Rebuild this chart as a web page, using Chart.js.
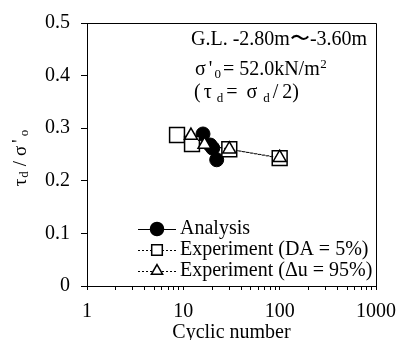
<!DOCTYPE html>
<html><head><meta charset="utf-8">
<script src="https://cdn.jsdelivr.net/npm/chart.js@4"></script>
<style>html,body{margin:0;padding:0;background:#fff}#wrap{width:406px;height:340px}</style>
</head><body>
<div id="wrap"><canvas id="c"></canvas></div>
<script>
// ---- data ----
const analysisN     = [16.0, 19.0, 20.2, 22.2];
const analysisRatio = [0.289, 0.268, 0.262, 0.240];
const daN           = [8.6, 12.3, 30, 100];
const daRatio       = [0.287, 0.270, 0.260, 0.243];
const duN           = [12, 16.6, 30, 100];
const duRatio       = [0.286, 0.269, 0.260, 0.244];
const xTickValues   = [1,2,3,4,5,6,7,8,9,10,20,30,40,50,60,70,80,90,100,200,300,400,500,600,700,800,900,1000];
const xTickLabels   = [1, 10, 100, 1000];
const yTickValues   = [0, 0.1, 0.2, 0.3, 0.4, 0.5];
const seriesNames   = ['Analysis', 'Experiment (DA = 5%)', 'Experiment (\u0394u = 95%)'];
const xTitle        = 'Cyclic number';

const SERIF = "'Liberation Serif','Times New Roman',serif";
const pts = (xs, ys) => xs.map((x, i) => ({x, y: ys[i]}));

function drawMarker(ctx, style, x, y, r, fill) {
  ctx.save();
  ctx.beginPath();
  if (style === 'circle') {
    ctx.arc(x, y, r, 0, Math.PI * 2);
  } else if (style === 'rect') {
    const s = Math.SQRT1_2 * r;
    ctx.rect(x - s, y - s, 2 * s, 2 * s);
  } else {
    ctx.moveTo(x, y - r);
    ctx.lineTo(x + Math.sin(2 * Math.PI / 3) * r, y + r / 2);
    ctx.lineTo(x - Math.sin(2 * Math.PI / 3) * r, y + r / 2);
    ctx.closePath();
  }
  ctx.fillStyle = fill;
  ctx.fill();
  ctx.lineWidth = 1.5;
  ctx.strokeStyle = '#000';
  ctx.stroke();
  ctx.restore();
}

// sequential rich-text runs: each piece placed after the previous one plus its gap
function runs(ctx, x, baseY, pieces) {
  pieces.forEach(p => {
    ctx.font = (p.size || 20) + 'px ' + SERIF;
    x += (p.gap || 0);
    ctx.fillText(p.t, x, baseY + (p.dy || 0));
    x += ctx.measureText(p.t).width;
  });
}

const decor = {
  id: 'decor',
  afterDraw(chart) {
    const ctx = chart.ctx, a = chart.chartArea;
    ctx.save();
    // frame (top and right)
    ctx.strokeStyle = '#000'; ctx.lineWidth = 1;
    ctx.beginPath();
    ctx.moveTo(a.left, a.top + 0.5); ctx.lineTo(a.right + 0.5, a.top + 0.5);
    ctx.lineTo(a.right + 0.5, a.bottom);
    ctx.stroke();

    ctx.fillStyle = '#000';
    ctx.textAlign = 'left';
    ctx.textBaseline = 'alphabetic';
    // annotation text
    runs(ctx, 191, 45, [{t: 'G.L. -2.80m\u301C-3.60m'}]);
    runs(ctx, 195, 75, [
      {t: '\u03C3'},
      {t: "'", gap: 3},
      {t: '0', size: 13, dy: 3, gap: 2},
      {t: '= 52.0kN/m', gap: 2},
      {t: '2', size: 13, dy: -7, gap: 0.5}
    ]);
    runs(ctx, 194, 98, [
      {t: '('},
      {t: '\u03C4', gap: 3},
      {t: 'd', size: 13, dy: 4, gap: 5},
      {t: '=', gap: 3},
      {t: '\u03C3', gap: 9},
      {t: 'd', size: 13, dy: 4, gap: 6},
      {t: '/', gap: 3},
      {t: '2)', gap: 4}
    ]);

    // legend
    const items = [
      {style: 'circle', r: 6.5, fill: '#000', dash: [], y: 229},
      {style: 'rect', r: 7.5, fill: '#fff', dash: [2, 2], y: 250},
      {style: 'triangle', r: 6.5, fill: '#fff', dash: [2, 2], y: 271}
    ];
    items.forEach((it, i) => {
      ctx.save();
      ctx.strokeStyle = '#000'; ctx.lineWidth = 1;
      ctx.setLineDash(it.dash);
      ctx.beginPath();
      ctx.moveTo(138, it.y + 0.5); ctx.lineTo(176, it.y + 0.5);
      ctx.stroke();
      ctx.restore();
      drawMarker(ctx, it.style, 157, it.y, it.r, it.fill);
      ctx.fillStyle = '#000';
      ctx.font = '20px ' + SERIF;
      ctx.textBaseline = 'middle';
      ctx.fillText(seriesNames[i], 180, it.y);
    });

    // x-axis title
    ctx.textAlign = 'center';
    ctx.textBaseline = 'alphabetic';
    ctx.font = '20px ' + SERIF;
    ctx.fillText(xTitle, (a.left + a.right) / 2, 338);

    // y-axis title (rotated)
    ctx.save();
    ctx.translate(21, 158);
    ctx.rotate(-Math.PI / 2);
    ctx.textBaseline = 'middle';
    ctx.textAlign = 'left';
    const parts = [
      {t: '\u03C4', size: 19, dy: 0},
      {t: 'd', size: 13, dy: 4},
      {t: '/', size: 19, dy: 0},
      {t: '\u03C3', size: 19, dy: 0},
      {t: "'", size: 19, dy: -1},
      {t: 'o', size: 13, dy: 4}
    ];
    const gaps = [0, 1, 5, 5, 3, 3];
    let w = 0;
    parts.forEach((p, i) => { ctx.font = p.size + 'px ' + SERIF; p.w = ctx.measureText(p.t).width; w += p.w + gaps[i]; });
    let x = -w / 2;
    parts.forEach((p, i) => { x += gaps[i]; ctx.font = p.size + 'px ' + SERIF; ctx.fillText(p.t, x, p.dy); x += p.w; });
    ctx.restore();
    ctx.restore();
  }
};

new Chart(document.getElementById('c'), {
  type: 'line',
  data: {
    datasets: [
      {label: seriesNames[0], data: pts(analysisN, analysisRatio), borderColor: '#000', borderWidth: 1,
       pointStyle: 'circle', pointRadius: 7, pointBackgroundColor: '#000', pointBorderColor: '#000',
       pointBorderWidth: 1, order: 3},
      {label: seriesNames[1], data: pts(daN, daRatio), borderColor: '#000', borderWidth: 1, borderDash: [2, 2],
       pointStyle: 'rect', pointRadius: 10.5, pointBackgroundColor: '#fff', pointBorderColor: '#000',
       pointBorderWidth: 1.5, order: 2},
      {label: seriesNames[2], data: pts(duN, duRatio), borderColor: '#000', borderWidth: 1, borderDash: [2, 2],
       pointStyle: 'triangle', pointRadius: 7.5, pointBackgroundColor: '#fff', pointBorderColor: '#000',
       pointBorderWidth: 1.5, order: 1}
    ]
  },
  options: {
    responsive: true, maintainAspectRatio: false, animation: false,
    layout: {padding: {left: 0, right: 25, top: 16, bottom: 0}},
    plugins: {legend: {display: false}, tooltip: {enabled: false}},
    scales: {
      x: {
        type: 'logarithmic', min: 1, max: 1000,
        afterBuildTicks: s => { s.ticks = xTickValues.map(v => ({value: v})); },
        afterFit: s => { s.height = 54; },
        grid: {drawOnChartArea: false, tickLength: 4, color: '#000', lineWidth: 1},
        border: {color: '#000', width: 1},
        ticks: {autoSkip: false, maxRotation: 0, padding: 10, color: '#000',
                font: {family: SERIF, size: 20},
                callback: v => xTickLabels.includes(v) ? String(v) : ''},
        title: {display: false}
      },
      y: {
        min: 0, max: 0.5,
        afterBuildTicks: s => { s.ticks = yTickValues.map(v => ({value: v})); },
        afterFit: s => { s.width = 87; },
        grid: {drawOnChartArea: false, tickLength: 6, color: '#000', lineWidth: 1},
        border: {color: '#000', width: 1},
        ticks: {padding: 11, color: '#000', font: {family: SERIF, size: 20},
                callback: v => String(v)}
      }
    }
  },
  plugins: [decor]
});
</script>
</body></html>
